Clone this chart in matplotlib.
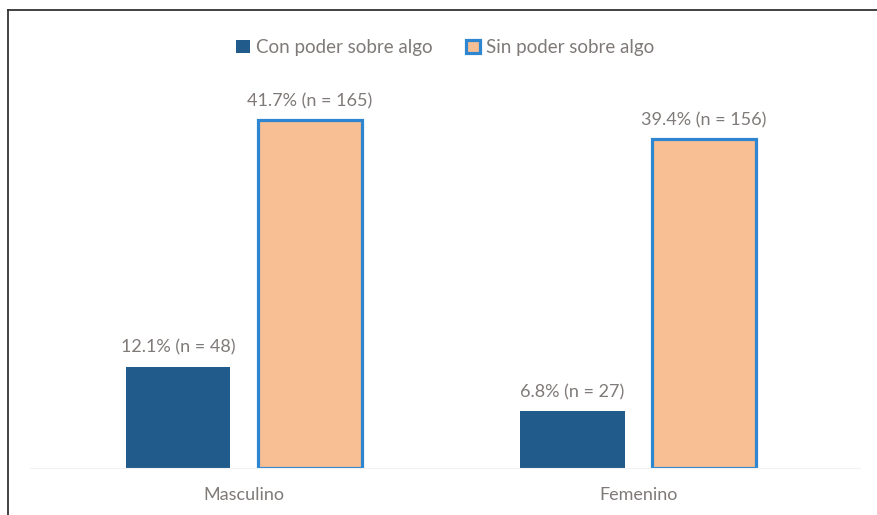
import matplotlib.pyplot as plt
from matplotlib.lines import Line2D
import numpy as np

categories = ["Masculino", "Femenino"]
series_names = ["Con poder sobre algo", "Sin poder sobre algo"]
con_poder = [12.1, 6.8]
sin_poder = [41.7, 39.4]
con_n = [48, 27]
sin_n = [165, 156]

plt.rcParams['font.family'] = ['Lato', 'DejaVu Sans']
text_color = '#7f7a78'

fig = plt.figure(figsize=(8.78, 5.15), dpi=100)
ax = fig.add_axes([30 / 878, 47 / 515, 830 / 878, 408 / 515])

x = np.arange(len(categories))
w = 0.264
off = 0.1665

b1 = ax.bar(x - off, con_poder, w, color='#215b8c', label=series_names[0])
b2 = ax.bar(x + off, sin_poder, w, color='#f8bf95', edgecolor='#2e86d0',
            linewidth=2.3, label=series_names[1])

# value labels above bars
for bars, vals, ns in [(b1, con_poder, con_n), (b2, sin_poder, sin_n)]:
    for rect, v, n in zip(bars, vals, ns):
        ax.annotate(f"{v}% (n = {n})",
                    (rect.get_x() + rect.get_width() / 2, rect.get_height()),
                    xytext=(0, 8), textcoords='offset points',
                    ha='center', va='bottom', fontsize=13, color=text_color)

ax.set_xlim(-0.543, 1.563)
ax.set_ylim(0, 48.9)
ax.set_xticks(x)
ax.set_xticklabels(categories, fontsize=13, color=text_color)
ax.tick_params(axis='x', length=0, pad=14)
ax.set_yticks([])
for s in ['top', 'right', 'left']:
    ax.spines[s].set_visible(False)
ax.spines['bottom'].set_color('#f2f2f2')

leg = ax.legend(loc='upper center', bbox_to_anchor=(0.5, 1.093), ncol=2,
                frameon=False, fontsize=13.5, handlelength=0.75,
                handleheight=0.75, handletextpad=0.3, columnspacing=1.8)
for t in leg.get_texts():
    t.set_color(text_color)

# frame lines on the left and top
fig.add_artist(Line2D([8 / 878, 8 / 878], [0, 1 - 10 / 515],
                      transform=fig.transFigure, color='#333333', lw=1.3))
fig.add_artist(Line2D([8 / 878, 1], [1 - 10 / 515, 1 - 10 / 515],
                      transform=fig.transFigure, color='#333333', lw=1.3))

fig.savefig('out.png', dpi=100)
